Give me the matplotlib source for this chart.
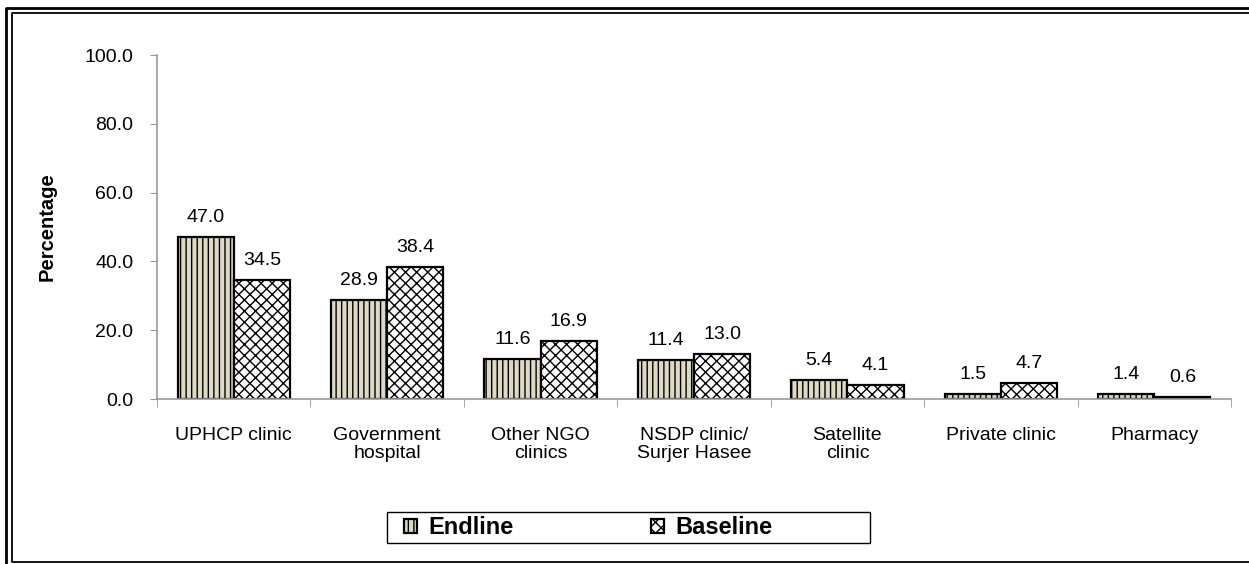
import numpy as np
import matplotlib.pyplot as plt
from matplotlib.lines import Line2D
from matplotlib.patches import Rectangle

categories = ['UPHCP clinic', 'Government\nhospital', 'Other NGO\nclinics',
              'NSDP clinic/\nSurjer Hasee', 'Satellite\nclinic', 'Private clinic', 'Pharmacy']
endline = [47.0, 28.9, 11.6, 11.4, 5.4, 1.5, 1.4]
baseline = [34.5, 38.4, 16.9, 13.0, 4.1, 4.7, 0.6]
yticks = [0, 20, 40, 60, 80, 100]

plt.rcParams['font.family'] = ['Liberation Sans', 'DejaVu Sans']
plt.rcParams['hatch.linewidth'] = 1.0

W, H = 1249, 564
fig = plt.figure(figsize=(W / 100, H / 100), dpi=100)
ax = fig.add_axes([157 / W, 1 - 399 / H, (1231 - 157) / W, (399 - 55) / H])

x = np.arange(len(categories))
w = 0.366
b1 = ax.bar(x - w / 2, endline, w, color='#DDD9C3', edgecolor='black',
            linewidth=1.6, hatch='|||', label='Endline')
b2 = ax.bar(x + w / 2, baseline, w, color='white', edgecolor='black',
            linewidth=1.6, hatch='xxx', label='Baseline')

for xi, v in zip(x - w / 2, endline):
    ax.text(xi, v + 3.2, f'{v:.1f}', ha='center', va='bottom', fontsize=14)
for xi, v in zip(x + w / 2, baseline):
    ax.text(xi, v + 3.2, f'{v:.1f}', ha='center', va='bottom', fontsize=14)

ax.set_xlim(-0.5, len(categories) - 0.5)
ax.set_ylim(0, 100)
ax.set_yticks(yticks)
ax.set_yticklabels([f'{t:.1f}' for t in yticks], fontsize=14)
ax.set_xticks(x)
ax.set_xticklabels(categories, fontsize=14, linespacing=1.1)
ax.tick_params(axis='x', length=0, pad=20)
ax.set_xticks(np.arange(-0.5, len(categories)), minor=True)
ax.tick_params(axis='x', which='minor', length=6, color='#999999')
ax.tick_params(axis='y', length=5, color='#999999', pad=12)
ax.set_ylabel('Percentage', fontsize=14.5, fontweight='bold', labelpad=20)

for s in ['top', 'right']:
    ax.spines[s].set_visible(False)
for s in ['left', 'bottom']:
    ax.spines[s].set_color('#999999')
    ax.spines[s].set_linewidth(1.2)

# legend: box drawn separately, entries placed inside it
fig.patches.append(Rectangle((387 / W, 1 - 543 / H), 483 / W, 31 / H,
                             transform=fig.transFigure, fill=False,
                             edgecolor='black', linewidth=1.0))
fig.legend(handles=[b1, b2], loc='center left', bbox_to_anchor=(404 / W, 1 - 528 / H),
           ncol=2, frameon=False, prop={'weight': 'bold', 'size': 17},
           handlelength=0.55, handleheight=0.55, columnspacing=5.8,
           borderpad=0.0, borderaxespad=0.0, handletextpad=0.5)

# double border (image is cropped on the right)
def fline(xs, ys, lw):
    fig.add_artist(Line2D([v / W for v in xs], [1 - v / H for v in ys],
                          transform=fig.transFigure, color='black', linewidth=lw))

fline([6, 6, W + 5], [H + 5, 8, 8], 2.0)
fline([W + 5, 11.5, 11.5, W + 5], [562, 562, 13, 13], 1.3)

fig.savefig('out.png', dpi=100)
